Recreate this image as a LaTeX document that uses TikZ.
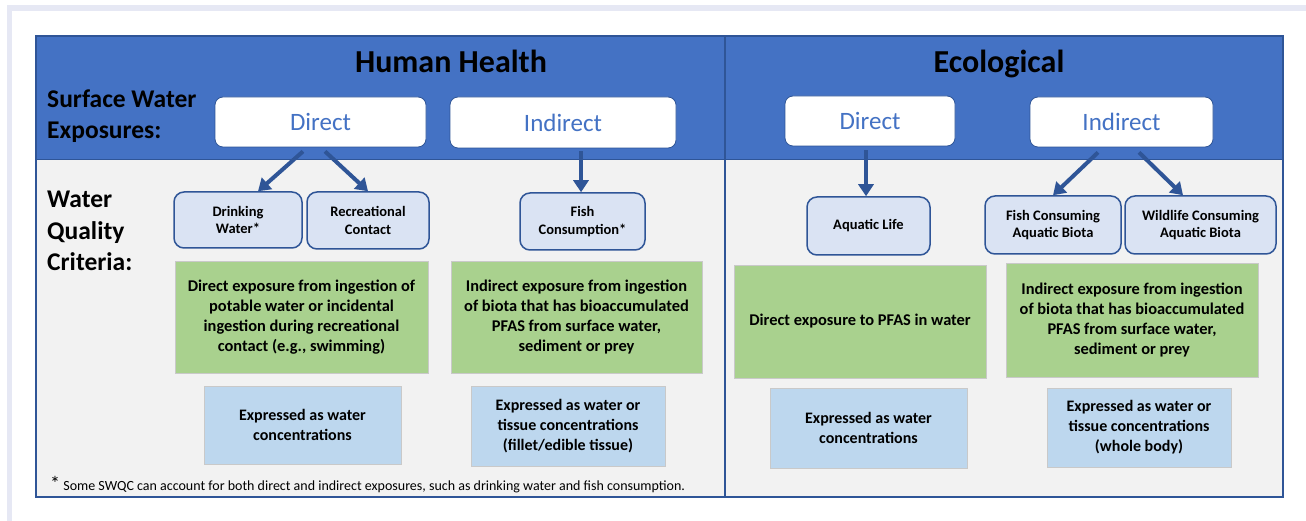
\documentclass[tikz,border=0pt]{standalone}
\usepackage{fontspec}
\setmainfont{Carlito}
\usetikzlibrary{arrows.meta}
\definecolor{dkblue}{HTML}{2F5597}
\definecolor{hdrblue}{HTML}{4472C4}
\definecolor{bodygrey}{HTML}{F2F2F2}
\definecolor{framelav}{HTML}{E6E8F4}
\definecolor{ltblue}{HTML}{DAE3F3}
\definecolor{grnfill}{HTML}{A9D18E}
\definecolor{blufill}{HTML}{BDD7EE}
\definecolor{boxgrey}{HTML}{C9C9C9}
\begin{document}
\begin{tikzpicture}[x=1pt,y=-1pt,
  wbox/.style={draw=dkblue, line width=0.8pt, fill=white, rounded corners=8pt, inner sep=0pt,
    text=hdrblue, font=\fontsize{25}{30}\selectfont},
  sbox/.style={draw=dkblue, line width=1.5pt, fill=ltblue, rounded corners=10pt, inner sep=0pt,
    align=center, font=\bfseries\fontsize{14.5}{17.5}\selectfont},
  gbox/.style={draw=boxgrey, line width=0.8pt, fill=grnfill, inner sep=0pt,
    align=center, font=\bfseries\fontsize{16.4}{20}\selectfont},
  bbox/.style={draw=boxgrey, line width=0.8pt, fill=blufill, inner sep=0pt,
    align=center, font=\bfseries\fontsize{16}{20}\selectfont},
  title/.style={font=\bfseries\fontsize{32}{38}\selectfont, anchor=base, inner sep=0pt},
  sidelbl/.style={anchor=west, align=left, inner sep=0pt},
  arr/.style={draw=dkblue, line width=4pt, -{Triangle[length=12pt,width=15pt]}}
]
\useasboundingbox (0,0) rectangle (1306,521);
\fill[white] (0,0) rectangle (1306,521);
% light frame
\fill[framelav] (7,5) rectangle (1306,11);
\fill[framelav] (7,5) rectangle (12,521);
% main panel
\fill[bodygrey] (36,36) rectangle (1283,497);
\fill[hdrblue] (36,36) rectangle (1283,160);
\draw[dkblue, line width=1pt] (36,160) -- (1283,160);
\draw[dkblue, line width=1.2pt] (725,36) -- (725,497);
\draw[dkblue, line width=2pt] (36,36) rectangle (1283,497);

% titles
\node[title] (hh) at (451,73) {Human Health};
\node[title] (eco) at (999,73) {Ecological};
\node[sidelbl, font=\bfseries\fontsize{25.5}{31}\selectfont] (swe) at (47,116) {Surface Water\\Exposures:};
\node[sidelbl, font=\bfseries\fontsize{25.5}{31.5}\selectfont] (wqc) at (47,231) {Water\\Quality\\Criteria:};

% exposure boxes
\node[wbox, minimum width=211pt, minimum height=50pt] (hhd) at (320.5,122) {Direct};
\node[wbox, minimum width=226pt, minimum height=51pt] (hhi) at (563,122.5) {Indirect};
\node[wbox, minimum width=170pt, minimum height=50pt] (ecd) at (870,121) {Direct};
\node[wbox, minimum width=183pt, minimum height=50pt] (eci) at (1121.5,122) {Indirect};

% criteria boxes
\node[sbox, minimum width=128pt, minimum height=56pt] (dw) at (238,220) {Drinking\\Water*};
\node[sbox, minimum width=122pt, minimum height=57pt] (rec) at (368,220.5) {Recreational\\Contact};
\node[sbox, minimum width=125pt, minimum height=57pt] (fish) at (582.5,221.5) {Fish\\Consumption*};
\node[sbox, minimum width=123pt, minimum height=58pt] (aql) at (868.5,226) {Aquatic Life};
\node[sbox, minimum width=136pt, minimum height=58pt] (fca) at (1053,225) {Fish Consuming\\Aquatic Biota};
\node[sbox, minimum width=151pt, minimum height=58pt] (wca) at (1200.5,225) {Wildlife Consuming\\Aquatic Biota};

% green boxes
\node[gbox, minimum width=253pt, minimum height=112pt] (g1) at (301.5,317) {Direct exposure from ingestion of\\potable water or incidental\\ingestion during recreational\\contact (e.g., swimming)};
\node[gbox, minimum width=251pt, minimum height=112pt] (g2) at (576.5,317) {Indirect exposure from ingestion\\of biota that has bioaccumulated\\PFAS from surface water,\\sediment or prey};
\node[gbox, minimum width=252pt, minimum height=113pt] (g3) at (860,321.5) {Direct exposure to PFAS in water};
\node[gbox, minimum width=252pt, minimum height=114pt] (g4) at (1132,320) {Indirect exposure from ingestion\\of biota that has bioaccumulated\\PFAS from surface water,\\sediment or prey};

% blue boxes
\node[bbox, minimum width=197pt, minimum height=78pt] (b1) at (302.5,425) {Expressed as water\\concentrations};
\node[bbox, minimum width=194pt, minimum height=80pt] (b2) at (568,426) {Expressed as water or\\tissue concentrations\\(fillet/edible tissue)};
\node[bbox, minimum width=197pt, minimum height=80pt] (b3) at (868.5,428) {Expressed as water\\concentrations};
\node[bbox, minimum width=184pt, minimum height=79pt] (b4) at (1139,427.5) {Expressed as water or\\tissue concentrations\\(whole body)};

% footnote
\node[anchor=base west, inner sep=0pt, font=\fontsize{14}{16}\selectfont] (fn) at (50,490)
  {{\fontsize{20}{20}\selectfont *} Some SWQC can account for both direct and indirect exposures, such as drinking water and fish consumption.};

% arrows
\draw[arr] ([xshift=-17.5pt,yshift=-4pt]hhd.south) -- ([xshift=20pt]dw.north);
\draw[arr] ([xshift=4.5pt,yshift=-4pt]hhd.south) -- (rec.north);
\draw[arr] ([xshift=18pt,yshift=-3pt]hhi.south) -- ([xshift=-1.5pt]fish.north);
\draw[arr] ([xshift=-4pt,yshift=-4pt]ecd.south) -- ([xshift=-2.5pt]aql.north);
\draw[arr] ([xshift=-23.5pt,yshift=-5pt]eci.south) -- (fca.north);
\draw[arr] ([xshift=17.5pt,yshift=-5pt]eci.south) -- ([xshift=-17.5pt]wca.north);
\end{tikzpicture}
\end{document}
